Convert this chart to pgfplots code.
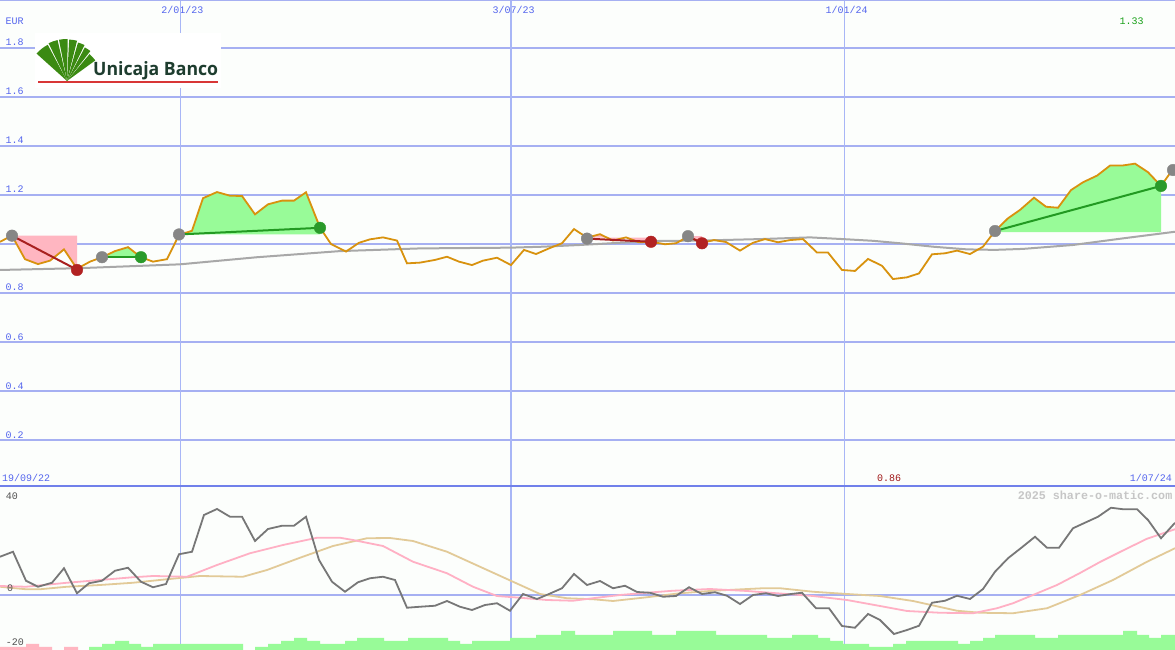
\documentclass[border=0pt]{standalone}
\usepackage{fontspec}
\setmainfont{Liberation Mono}
\newfontfamily\logofont{Open Sans}
\usepackage{graphicx}
\usepackage{pgfplots}
\pgfplotsset{compat=1.18}

\definecolor{bg}{HTML}{FCFEFC}
\definecolor{gridc}{HTML}{A6B0F2}
\definecolor{vgridc}{HTML}{A8B6F6}
\definecolor{divc}{HTML}{7080EA}
\definecolor{tickblue}{HTML}{5566EE}
\definecolor{pricec}{HTML}{D8920E}
\definecolor{mac}{HTML}{A8A8A8}
\definecolor{palegreen}{HTML}{98FB98}
\definecolor{lpink}{HTML}{FFB6C1}
\definecolor{tgreen}{HTML}{229A22}
\definecolor{tred}{HTML}{A82020}
\definecolor{mgray}{HTML}{868686}
\definecolor{mgreen}{HTML}{2A9A2A}
\definecolor{mred}{HTML}{B22222}
\definecolor{oscgray}{HTML}{777777}
\definecolor{oscpink}{HTML}{FFB0C4}
\definecolor{osctan}{HTML}{E2CA98}
\definecolor{labgray}{HTML}{505050}
\definecolor{wmgray}{HTML}{C6C6C6}
\definecolor{logogreen}{HTML}{3B8A12}
\definecolor{logotext}{HTML}{1E3D2F}
\definecolor{logored}{HTML}{D83636}
\definecolor{darkred}{HTML}{A01818}
\definecolor{numgreen}{HTML}{18A018}

\begin{document}
\begin{tikzpicture}[x=1pt,y=1pt]
\fill[bg] (0pt,0pt) rectangle (1175pt,650pt);
\useasboundingbox (0pt,0pt) rectangle (1175pt,650pt);

% ---------------- upper panel: price ----------------
\begin{axis}[
  at={(0pt,163pt)}, anchor=south west, scale only axis,
  width=1175pt, height=487pt,
  xmin=0, xmax=1175, ymin=0.0082, ymax=1.9959,
  axis line style={draw=none}, major tick length=0pt,
  tick label style={font=\fontsize{10}{12}\selectfont},
  xtick={180,511,844},
  xticklabels={2/01/23,3/07/23,1/01/24},
  xticklabel pos=right,
  xticklabel style={anchor=base, yshift=-13.3pt, xshift=2.5pt, fill=bg, inner sep=1.5pt, text=tickblue},
  ytick={0.2,0.4,0.6,0.8,1.0,1.2,1.4,1.6,1.8},
  yticklabels={0.2,0.4,0.6,0.8,,1.2,1.4,1.6,1.8},
  yticklabel style={anchor=base west, inner sep=0pt, xshift=5.5pt, yshift=2pt, text=tickblue},
  ymajorgrids, major grid style={gridc, line width=2pt},
]
\draw[vgridc, line width=1pt] (axis cs:180,0) -- (axis cs:180,2);
\draw[vgridc, line width=2pt] (axis cs:511,0) -- (axis cs:511,2);
\draw[vgridc, line width=1pt] (axis cs:844,0) -- (axis cs:844,2);

% trade areas
\addplot[fill=lpink, draw=none] coordinates {(12,1.034)(25,0.938)(38,0.918)(50,0.932)(64,0.978)(77,0.899)(77,1.034)};
\addplot[fill=palegreen, draw=none] coordinates {(102,0.946)(115,0.971)(128,0.987)(141,0.946)};
\addplot[fill=palegreen, draw=none] coordinates {(179,1.039)(192,1.054)(203,1.187)(217,1.212)(230,1.197)(242,1.196)(255,1.121)(268,1.162)(282,1.177)(294,1.177)(306,1.211)(320,1.067)(320,1.039)};
\addplot[fill=lpink, draw=none] coordinates {(587,1.026)(600,1.040)(613,1.014)(626,1.027)(639,1.007)(651,1.009)(651,1.026)};
\addplot[fill=lpink, draw=none] coordinates {(688,1.032)(702,1.005)(702,1.032)};
\addplot[fill=palegreen, draw=none] coordinates {(995,1.048)(995,1.053)(1008,1.105)(1020,1.139)(1034,1.189)(1046,1.152)(1058,1.148)(1071,1.220)(1083,1.252)(1097,1.279)(1110,1.320)(1122,1.320)(1135,1.328)(1148,1.293)(1161,1.237)(1161,1.048)};

% moving average
\addplot[mac, line width=2pt] coordinates {(0,0.894)(77,0.901)(180,0.917)(257,0.946)(340,0.971)(377,0.976)(420,0.982)(510,0.985)(543,0.989)(580,0.996)(620,1.005)(653,1.012)(700,1.014)(760,1.020)(810,1.027)(843,1.020)(873,1.013)(900,1.003)(933,0.989)(967,0.978)(995,0.976)(1023,0.980)(1073,0.996)(1123,1.023)(1175,1.050)};

% price
\addplot[pricec, line width=1.8pt] coordinates {(0,1.009)(12,1.034)(25,0.938)(38,0.918)(50,0.932)(64,0.978)(77,0.899)(90,0.928)(102,0.946)(115,0.971)(128,0.987)(141,0.946)(153,0.928)(167,0.938)(179,1.037)(192,1.054)(203,1.187)(217,1.212)(230,1.197)(242,1.196)(255,1.121)(268,1.162)(282,1.177)(294,1.177)(306,1.211)(320,1.067)(331,1.000)(346,0.969)(359,1.005)(370,1.019)(383,1.027)(397,1.014)(407,0.921)(420,0.924)(435,0.935)(447,0.948)(459,0.928)(472,0.914)(483,0.932)(497,0.944)(511,0.914)(524,0.976)(536,0.959)(549,0.982)(562,1.003)(574,1.061)(587,1.026)(600,1.040)(613,1.014)(626,1.027)(639,1.007)(651,1.009)(665,0.999)(676,1.003)(688,1.030)(702,1.005)(714,1.016)(726,1.008)(740,0.973)(753,1.005)(765,1.020)(778,1.007)(790,1.016)(803,1.020)(817,0.965)(828,0.965)(842,0.894)(855,0.890)(868,0.939)(882,0.911)(893,0.857)(907,0.864)(919,0.880)(932,0.958)(945,0.962)(957,0.973)(970,0.959)(983,0.989)(995,1.053)(1008,1.105)(1020,1.139)(1034,1.189)(1046,1.152)(1058,1.148)(1071,1.220)(1083,1.252)(1097,1.279)(1110,1.320)(1122,1.320)(1135,1.328)(1148,1.293)(1161,1.237)(1173,1.306)(1180,1.31)};

% trade lines
\addplot[tred, line width=2pt] coordinates {(12,1.034)(77,0.895)};
\addplot[tgreen, line width=2pt] coordinates {(102,0.946)(141,0.946)};
\addplot[tgreen, line width=2pt] coordinates {(179,1.039)(320,1.066)};
\addplot[tred, line width=2pt] coordinates {(587,1.022)(651,1.009)};
\addplot[tred, line width=2pt] coordinates {(688,1.032)(702,1.003)};
\addplot[tgreen, line width=2pt] coordinates {(995,1.053)(1161,1.237)};

% markers
\addplot[only marks, mark=*, color=mgray, mark size=5.8pt] coordinates {(12,1.034)(102,0.946)(179,1.039)(587,1.022)(688,1.032)(995,1.053)(1173,1.302)};
\addplot[only marks, mark=*, color=mgreen, mark size=5.8pt] coordinates {(141,0.946)(320,1.066)(1161,1.237)};
\addplot[only marks, mark=*, color=mred, mark size=5.8pt] coordinates {(77,0.894)(651,1.009)(702,1.003)};
\end{axis}

% ---------------- lower panel: oscillator ----------------
\begin{axis}[
  at={(0pt,0pt)}, anchor=south west, scale only axis,
  width=1175pt, height=163pt,
  xmin=0, xmax=1175, ymin=-22, ymax=43.2,
  axis line style={draw=none}, major tick length=0pt,
  xtick=\empty, ytick=\empty,
]
\draw[vgridc, line width=1pt] (axis cs:180,-25) -- (axis cs:180,45);
\draw[vgridc, line width=2pt] (axis cs:511,-25) -- (axis cs:511,45);
\draw[vgridc, line width=1pt] (axis cs:844,-25) -- (axis cs:844,45);
\draw[gridc, line width=2pt] (axis cs:0,0) -- (axis cs:1175,0);

\addplot[const plot, fill=lpink, draw=none] coordinates {(-1,-23)(-1,-20.8)(26,-19.6)(39,-20.8)(52,-23)(64,-20.8)(78,-23)};
\addplot[const plot, fill=palegreen, draw=none] coordinates {(89,-23)(89,-20.8)(102,-19.6)(115,-18.4)(129,-19.6)(141,-20.8)(153,-19.6)(243,-23)(255,-20.8)(268,-19.6)(281,-18.4)(294,-17.2)(307,-18.4)(320,-19.6)(345,-18.4)(357,-17.2)(384,-18.4)(408,-17.2)(448,-18.4)(460,-19.6)(472,-18.4)(510,-17.2)(536,-16)(561,-14.4)(575,-16)(613,-14.4)(652,-16)(676,-14.4)(716,-16)(767,-17.2)(792,-16)(818,-17.2)(830,-18.4)(843,-19.6)(869,-20.8)(893,-19.6)(906,-18.4)(958,-19.6)(970,-18.4)(983,-17.2)(995,-16)(1035,-17.2)(1058,-16)(1123,-14.4)(1137,-16)(1149,-17.2)(1161,-16)(1176,-23)};

\addplot[osctan, line width=1.8pt] coordinates {(0,3.3)(26,2.3)(40,2.3)(67,3.3)(100,4.0)(133,4.9)(167,6.3)(200,7.6)(243,7.3)(267,10.0)(300,14.9)(333,19.6)(367,22.7)(390,22.8)(413,21.6)(447,17.3)(480,11.3)(513,5.3)(540,0.4)(567,-1.3)(593,-1.7)(613,-2.4)(647,-0.9)(680,0.7)(713,1.7)(763,2.7)(780,2.7)(813,1.3)(847,0.4)(880,-0.4)(913,-2.4)(957,-6.3)(980,-7.1)(1013,-7.3)(1047,-5.3)(1080,0.0)(1113,6.0)(1147,13.3)(1175,18.7)};
\addplot[oscpink, line width=1.8pt] coordinates {(0,3.6)(26,3.3)(67,4.9)(100,6.0)(133,7.1)(153,7.6)(187,7.3)(217,12.0)(250,16.7)(283,20.0)(317,22.9)(340,22.9)(353,22.0)(383,19.6)(413,13.3)(447,8.7)(473,3.3)(497,-0.4)(520,-1.1)(547,-2.0)(573,-2.3)(597,-1.1)(620,0.0)(647,0.9)(673,1.7)(710,2.4)(747,1.6)(780,0.6)(813,-0.4)(847,-2.0)(880,-4.4)(907,-6.4)(940,-7.1)(973,-7.3)(997,-5.3)(1013,-3.3)(1033,0.0)(1057,4.0)(1080,8.8)(1100,13.2)(1123,17.8)(1147,22.5)(1175,26.3)};
\addplot[oscgray, line width=1.8pt] coordinates {(0,15.3)(13,17.3)(26,5.7)(38,3.3)(52,4.9)(64,10.7)(77,0.7)(89,4.7)(102,5.7)(115,9.7)(128,10.9)(141,5.3)(153,3.1)(166,4.4)(179,16.3)(192,17.3)(204,32.0)(217,34.4)(230,31.3)(242,31.3)(255,21.6)(268,26.4)(282,27.7)(294,27.7)(306,31.3)(319,14.0)(332,5.3)(345,1.3)(358,5.1)(370,6.7)(383,7.3)(395,6.0)(407,-5.1)(420,-4.7)(435,-4.3)(447,-2.4)(460,-4.7)(472,-6.0)(485,-4.0)(497,-3.3)(510,-6.3)(523,0.4)(537,-1.6)(549,0.4)(562,2.7)(574,8.4)(587,4.0)(600,5.6)(613,2.7)(625,3.7)(637,1.2)(650,0.9)(663,-0.7)(676,-0.4)(689,3.1)(702,0.4)(715,1.1)(727,-0.3)(740,-3.6)(753,0.0)(766,0.7)(778,-0.4)(791,0.4)(802,0.9)(816,-5.3)(829,-5.3)(842,-12.4)(855,-13.1)(868,-7.6)(880,-10.0)(894,-15.6)(907,-14.0)(919,-12.3)(932,-3.1)(945,-2.3)(957,-0.3)(970,-1.6)(983,2.4)(995,9.3)(1008,14.7)(1022,19.1)(1035,23.3)(1047,18.9)(1059,18.9)(1073,26.7)(1086,29.1)(1098,31.3)(1111,34.9)(1123,34.3)(1137,34.3)(1148,30.0)(1161,22.7)(1175,28.9)};
\end{axis}

% frame lines
\draw[gridc, line width=2pt] (0pt,650pt) -- (1175pt,650pt);
\draw[divc, line width=2pt] (0pt,163.5pt) -- (1175pt,163.5pt);

% logo
\fill[white] (35pt,562pt) rectangle (221pt,617pt);
\foreach \a/\b/\r in {36/50/35, 52/62/38, 64/74/40, 76/87/41.5, 89/101/42, 103/116/42, 118/138/41}
  \fill[logogreen] (67pt,569pt) -- ++(\a:\r pt) arc[start angle=\a, end angle=\b, radius=\r pt] -- cycle;
\node[anchor=base west, inner sep=0pt] at (93pt,574.5pt) {\resizebox{125pt}{14pt}{\color{logotext}\logofont\bfseries Unicaja Banco}};
\draw[logored, line width=1.5pt] (38pt,568pt) -- (218pt,568pt);

% texts
\begin{scope}[every node/.style={inner sep=0pt, font=\fontsize{10}{12}\selectfont}]
\node[anchor=base west, text=tickblue] at (5.5pt,625.5pt) {EUR};
\node[anchor=base west, text=numgreen] at (1119.5pt,625.5pt) {1.33};
\node[anchor=base west, text=tickblue] at (2pt,168pt) {19/09/22};
\node[anchor=base west, text=darkred] at (877pt,168pt) {0.86};
\node[anchor=base east, text=tickblue] at (1172pt,168pt) {1/07/24};
\node[anchor=base west, text=labgray] at (5.7pt,150pt) {40};
\node[anchor=base west, text=labgray] at (7pt,58.3pt) {0};
\node[anchor=base west, text=labgray] at (5.7pt,4pt) {-20};
\node[anchor=base east, text=wmgray, font=\fontsize{11.7}{13}\selectfont\bfseries] at (1172.5pt,150pt) {2025 share-o-matic.com};
\end{scope}
\end{tikzpicture}
\end{document}
